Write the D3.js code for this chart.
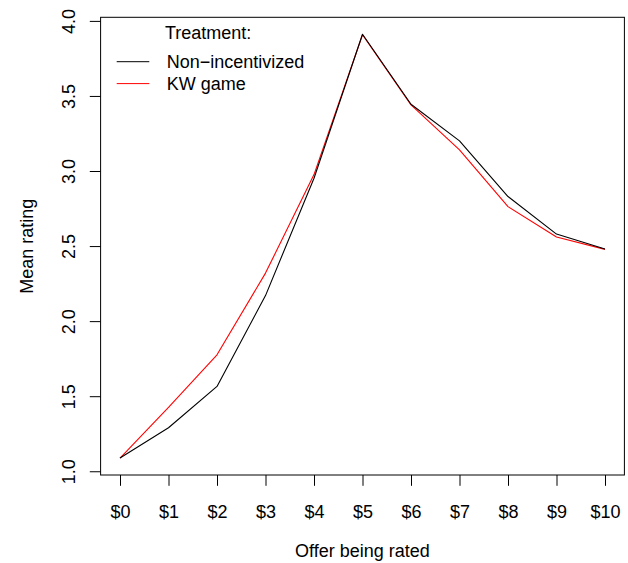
<!DOCTYPE html>
<html>
<head>
<meta charset="utf-8">
<script src="https://cdn.jsdelivr.net/npm/d3@7"></script>
<style>
  html, body { margin: 0; padding: 0; background: #fff; }
  svg { display: block; }
  text { font-family: "Liberation Sans", Arial, Helvetica, sans-serif; }
</style>
</head>
<body>
<svg id="chart" width="628" height="563"></svg>
<script>
// ---- data ----
const offers = ["$0","$1","$2","$3","$4","$5","$6","$7","$8","$9","$10"];
const nonIncentivized = [1.088, 1.29, 1.565, 2.17, 2.952, 3.911, 3.445, 3.201, 2.83, 2.58, 2.48];
const kwGame          = [1.088, 1.425, 1.776, 2.32, 2.976, 3.908, 3.44, 3.141, 2.763, 2.56, 2.478];
const yTicks = [1.0, 1.5, 2.0, 2.5, 3.0, 3.5, 4.0];
const seriesNames = ["Non\u2212incentivized", "KW game"];
const seriesColors = ["#000000", "#ff0000"];
const legendTitle = "Treatment:";
const xTitle = "Offer being rated";
const yTitle = "Mean rating";

// ---- layout ----
const W = 628, H = 563;
const box = { left: 100.6, right: 624.4, top: 17.3, bottom: 475 };
const fontSize = 18;

const svg = d3.select("#chart");

// R-style 4% extension
const idx = offers.map((d, i) => i);
const xExt = 0.04 * (idx.length - 1);
const x = d3.scaleLinear()
  .domain([0 - xExt, idx.length - 1 + xExt])
  .range([box.left, box.right]);

const allY = nonIncentivized.concat(kwGame);
const yMin = d3.min(allY), yMax = d3.max(allY);
const yExt = 0.04 * (yMax - yMin);
const y = d3.scaleLinear()
  .domain([yMin - yExt, yMax + yExt])
  .range([box.bottom, box.top]);

// ---- lines (red first, black on top) ----
const line = d3.line().x((d, i) => x(i)).y(d => y(d));
const series = [nonIncentivized, kwGame];
[1, 0].forEach(k => {
  svg.append("path")
    .datum(series[k])
    .attr("fill", "none")
    .attr("stroke", seriesColors[k])
    .attr("stroke-width", 1.1)
    .attr("stroke-linejoin", "round")
    .attr("d", line);
});

// ---- box ----
svg.append("rect")
  .attr("x", box.left).attr("y", box.top)
  .attr("width", box.right - box.left).attr("height", box.bottom - box.top)
  .attr("fill", "none").attr("stroke", "#000").attr("stroke-width", 1);

// ---- x axis ----
const xAxis = d3.axisBottom(x)
  .tickValues(idx)
  .tickFormat(i => offers[i])
  .tickSize(10.8)
  .tickPadding(0);
const gx = svg.append("g").attr("transform", `translate(0,${box.bottom})`).call(xAxis);
gx.select(".domain").remove();
gx.selectAll(".tick line").attr("stroke", "#000");
gx.selectAll(".tick text")
  .attr("y", 43).attr("dy", null)
  .attr("font-size", fontSize).attr("fill", "#000")
  .attr("font-family", "'Liberation Sans', Arial, sans-serif");

// ---- y axis ----
const yAxis = d3.axisLeft(y)
  .tickValues(yTicks)
  .tickFormat(d3.format(".1f"))
  .tickSize(10.8);
const gy = svg.append("g").attr("transform", `translate(${box.left},0)`).call(yAxis);
gy.select(".domain").remove();
gy.selectAll(".tick line").attr("stroke", "#000");
gy.selectAll(".tick text")
  .attr("x", null).attr("dy", null)
  .attr("transform", "translate(-25.8,0) rotate(-90)")
  .attr("text-anchor", "middle")
  .attr("font-size", fontSize).attr("fill", "#000")
  .attr("font-family", "'Liberation Sans', Arial, sans-serif");

// ---- axis titles ----
svg.append("text")
  .attr("x", (box.left + box.right) / 2).attr("y", 557)
  .attr("text-anchor", "middle").attr("font-size", fontSize)
  .text(xTitle);
svg.append("text")
  .attr("transform", `translate(33,${(box.top + box.bottom) / 2}) rotate(-90)`)
  .attr("text-anchor", "middle").attr("font-size", fontSize)
  .text(yTitle);

// ---- legend ----
const leg = svg.append("g");
leg.append("text").attr("x", 165).attr("y", 39.3)
  .attr("font-size", fontSize).text(legendTitle);
const legY = [61.7, 83.6];
seriesNames.forEach((name, k) => {
  leg.append("line")
    .attr("x1", 116.7).attr("x2", 149.3)
    .attr("y1", legY[k]).attr("y2", legY[k])
    .attr("stroke", seriesColors[k]).attr("stroke-width", 1);
  leg.append("text").attr("x", 166.7).attr("y", legY[k] + 6.6)
    .attr("font-size", fontSize).text(name);
});
</script>
</body>
</html>
